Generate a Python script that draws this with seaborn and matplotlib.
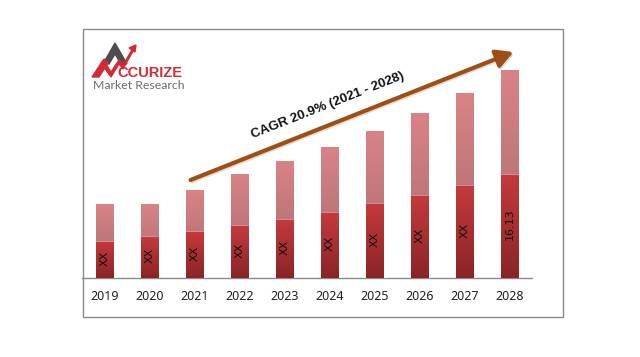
import numpy as np
import matplotlib
matplotlib.use("Agg")
import matplotlib.pyplot as plt
import matplotlib.patches as mpatches
from matplotlib.colors import LinearSegmentedColormap
import pandas as pd
import seaborn as sns

# valeurs (unités relatives, 2028 = 16.13 pour la partie basse)
years = ['2019', '2020', '2021', '2022', '2023', '2024', '2025', '2026', '2027', '2028']
lower_vals = [5.64, 6.42, 7.20, 8.14, 9.08, 10.18, 11.59, 12.84, 14.41, 16.13]
upper_vals = [5.95, 5.17, 6.58, 8.15, 9.24, 10.33, 11.43, 13.00, 14.56, 16.44]
bar_labels = ['XX', 'XX', 'XX', 'XX', 'XX', 'XX', 'XX', 'XX', 'XX', '16.13']
cagr_text = "CAGR 20.9% (2021 - 2028)"

W, H = 640, 357


def px(x, y):
    """pixels (origine en haut a gauche) -> fraction de figure"""
    return x / W, 1 - y / H


def gradient_fill(ax, patch, c_top, c_bottom):
    """remplit une barre avec un degrade vertical"""
    x, y = patch.get_x(), patch.get_y()
    w, h = patch.get_width(), patch.get_height()
    cmap = LinearSegmentedColormap.from_list("g", [c_bottom, c_top])
    grad = np.linspace(0, 1, 100).reshape(-1, 1)
    im = ax.imshow(grad, cmap=cmap, extent=(x, x + w, y, y + h), origin='lower',
                   aspect='auto', zorder=patch.get_zorder() + 0.1)
    im.set_clip_path(patch)


sns.set_style("white")
fig = plt.figure(figsize=(6.4, 3.57), dpi=100)

# cadre autour du graphique
x0, y0 = px(83, 317)
x1, y1 = px(563, 29)
fig.patches.append(mpatches.Rectangle((x0, y0), x1 - x0, y1 - y0, transform=fig.transFigure,
                                      fill=False, edgecolor='#8a8a8a', lw=1.0))

ax_l, ax_b = px(82, 278)
ax_r, ax_t = px(532, 29)
ax = fig.add_axes([ax_l, ax_b, ax_r - ax_l, ax_t - ax_b])
ax.patch.set_alpha(0)

df = pd.DataFrame({'year': years, 'lower': lower_vals, 'upper': upper_vals})
df['total'] = df['lower'] + df['upper']

sns.barplot(data=df, x='year', y='total', color='#c57577', width=0.4, ax=ax, zorder=2)
sns.barplot(data=df, x='year', y='lower', color='#b3333a', width=0.4, ax=ax, zorder=3)

n = len(years)
for i, p in enumerate(ax.patches):
    if i < n:
        gradient_fill(ax, p, '#d98386', '#a46a6c')
    else:
        gradient_fill(ax, p, '#c43a3c', '#8a2427')

for i, (v, lab) in enumerate(zip(lower_vals, bar_labels)):
    ax.text(i, v / 2 + 0.3, lab, rotation=90, ha='center', va='center',
            fontsize=8, color='#111111', zorder=5, family='DejaVu Sans')

ax.set_xlim(-0.5, n - 0.5)
ax.set_ylim(0, 39.0)
ax.set_xlabel("")
ax.set_ylabel("")
ax.set_yticks([])
for s in ['top', 'right', 'left']:
    ax.spines[s].set_visible(False)
ax.spines['bottom'].set_color('#8a8a8a')
ax.spines['bottom'].set_linewidth(1.0)
ax.set_xticks(range(n))
ax.set_xticklabels(years, fontsize=9, color='#222222', family='Noto Sans')
ax.set_xticks(np.arange(-0.5, n, 1.0), minor=True)
ax.tick_params(axis='x', which='major', length=0, pad=9)
ax.tick_params(axis='x', which='minor', length=4, color='#8a8a8a', direction='out')

# fleche CAGR (avec ombre legere)
s0 = px(188, 181)
s1 = px(516, 51)
sh = (1.2 / W, -1.2 / H)
style = '-|>,head_length=1.0,head_width=0.55'
fig.add_artist(mpatches.FancyArrowPatch((s0[0] + sh[0], s0[1] + sh[1]), (s1[0] + sh[0], s1[1] + sh[1]),
                                        transform=fig.transFigure, arrowstyle=style,
                                        mutation_scale=10, lw=3.2, color='#cdbba6', alpha=0.5, zorder=6))
fig.add_artist(mpatches.FancyArrowPatch(s0, s1, transform=fig.transFigure, arrowstyle=style,
                                        mutation_scale=10, lw=3.0, color='#9e4f16', zorder=7))
tx, ty = px(328, 106)
fig.text(tx, ty, cagr_text, rotation=21.5, rotation_mode='anchor', ha='center', va='center',
         fontsize=9.5, fontweight='bold', color='#111111', family='Liberation Sans', zorder=8)

# logo
gray = '#4d4d4f'
red = '#d22b36'
tri = [px(103, 64), px(115, 43), px(127, 64), px(121, 64), px(115, 54), px(109, 64)]
fig.patches.append(mpatches.Polygon(tri, closed=True, transform=fig.transFigure, color=gray))
leg = [px(92, 77), px(104, 59), px(108, 63), px(99, 77)]
fig.patches.append(mpatches.Polygon(leg, closed=True, transform=fig.transFigure, color=red))
zig = [px(104, 61), px(111, 72), px(119, 60), px(123, 65), px(132, 50), px(129, 48),
       px(136, 45), px(135, 52), px(133, 51), px(123, 69), px(119, 64), px(111, 77), px(101, 63)]
fig.patches.append(mpatches.Polygon(zig, closed=True, transform=fig.transFigure, color=red))
lx, ly = px(117, 77)
fig.text(lx, ly, "CCURIZE", ha='left', va='baseline', fontsize=10.5, fontweight='bold',
         color=red, family='Liberation Sans')
mx, my = px(93, 89)
fig.text(mx, my, "Market Research", ha='left', va='baseline', fontsize=8.8, color='#6b6b6b',
         family='Lato')

fig.savefig("out.png", dpi=100)
